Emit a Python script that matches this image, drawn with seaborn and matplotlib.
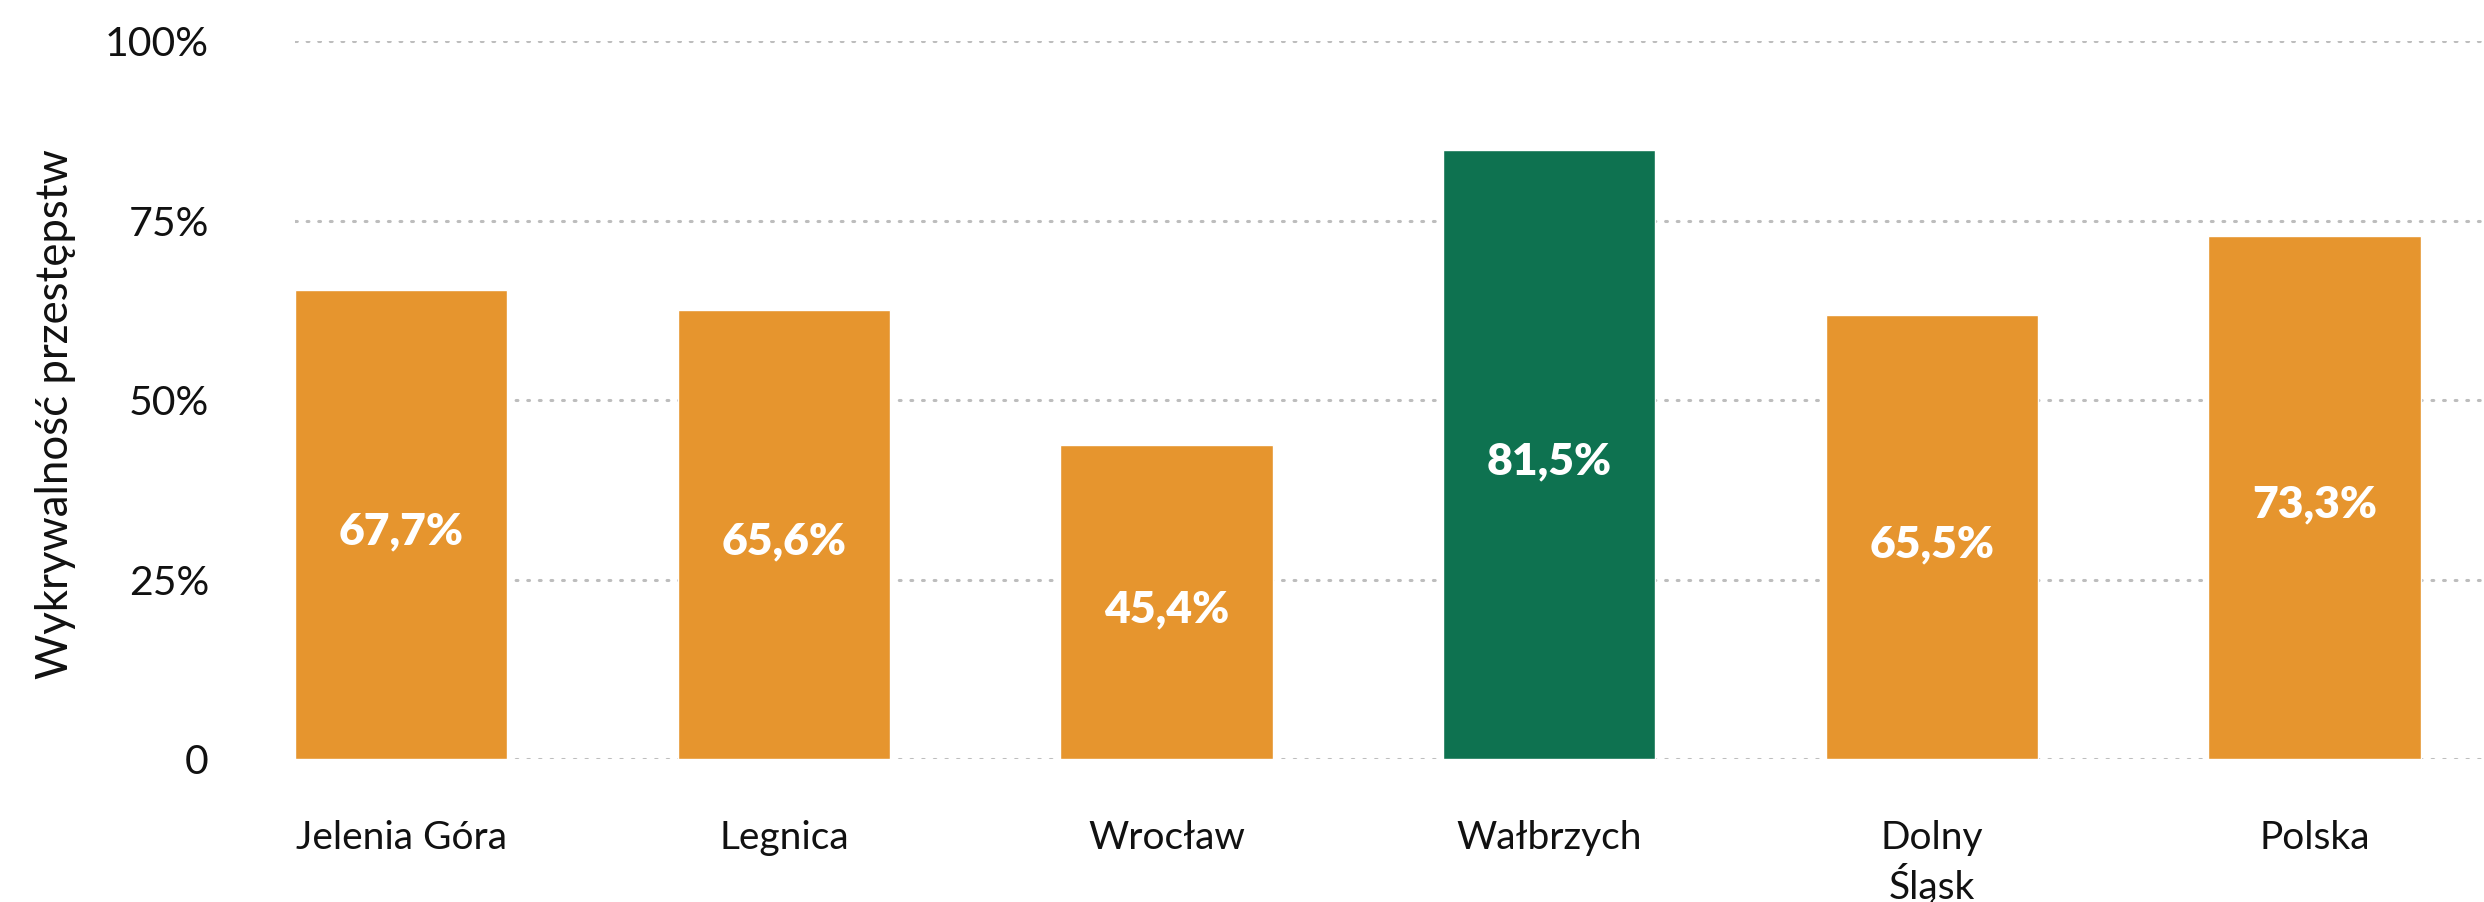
import matplotlib
matplotlib.use("Agg")
import matplotlib.pyplot as plt
import seaborn as sns
import pandas as pd

sns.set_theme(style='white')
plt.rcParams['font.family'] = ['Lato', 'DejaVu Sans']

# Data
regions = ['Jelenia Góra', 'Legnica', 'Wrocław', 'Wałbrzych', 'Dolny\nŚląsk', 'Polska']
bar_heights = [65.3, 62.5, 43.7, 84.8, 61.8, 72.8]
value_labels = ['67,7%', '65,6%', '45,4%', '81,5%', '65,5%', '73,3%']
bar_colors = ['#E6952E', '#E6952E', '#E6952E', '#0E7250', '#E6952E', '#E6952E']
y_ticks = [0, 25, 50, 75, 100]
y_tick_labels = ['0', '25%', '50%', '75%', '100%']

df = pd.DataFrame({'region': regions, 'value': bar_heights})

fig = plt.figure(figsize=(24.84, 9.02), dpi=100)
ax = fig.add_axes([0.1188, 0.1585, 0.8812, 0.796])

# dotted grid behind the bars
for yv in y_ticks:
    ax.axhline(yv, color='#BDBDBD', linestyle=(0, (0.6, 3.2)), linewidth=2.2,
               dash_capstyle='round', zorder=0)

sns.barplot(data=df, x='region', y='value', hue='region', palette=bar_colors,
            width=0.555, legend=False, ax=ax, saturation=1, zorder=2)

for i, (h, lab) in enumerate(zip(bar_heights, value_labels)):
    ax.text(i, h / 2 - 1.0, lab, ha='center', va='center', color='white',
            fontsize=32, fontweight='heavy', zorder=3)

ax.set_xlim(-0.2775, 5.443)
ax.set_ylim(0, 100)
ax.set_yticks(y_ticks)
ax.set_yticklabels(y_tick_labels)
ax.tick_params(axis='y', length=0, pad=62, labelsize=29.5, colors='#111111')
ax.tick_params(axis='x', length=0, pad=44, labelsize=28, colors='#111111')
ax.set_xlabel('')
ax.set_ylabel('Wykrywalność przestępstw', fontsize=31.5, color='#111111')
ax.yaxis.set_label_coords(-0.1, 0.48)
for s in ax.spines.values():
    s.set_visible(False)

fig.savefig('out.png', dpi=100)
